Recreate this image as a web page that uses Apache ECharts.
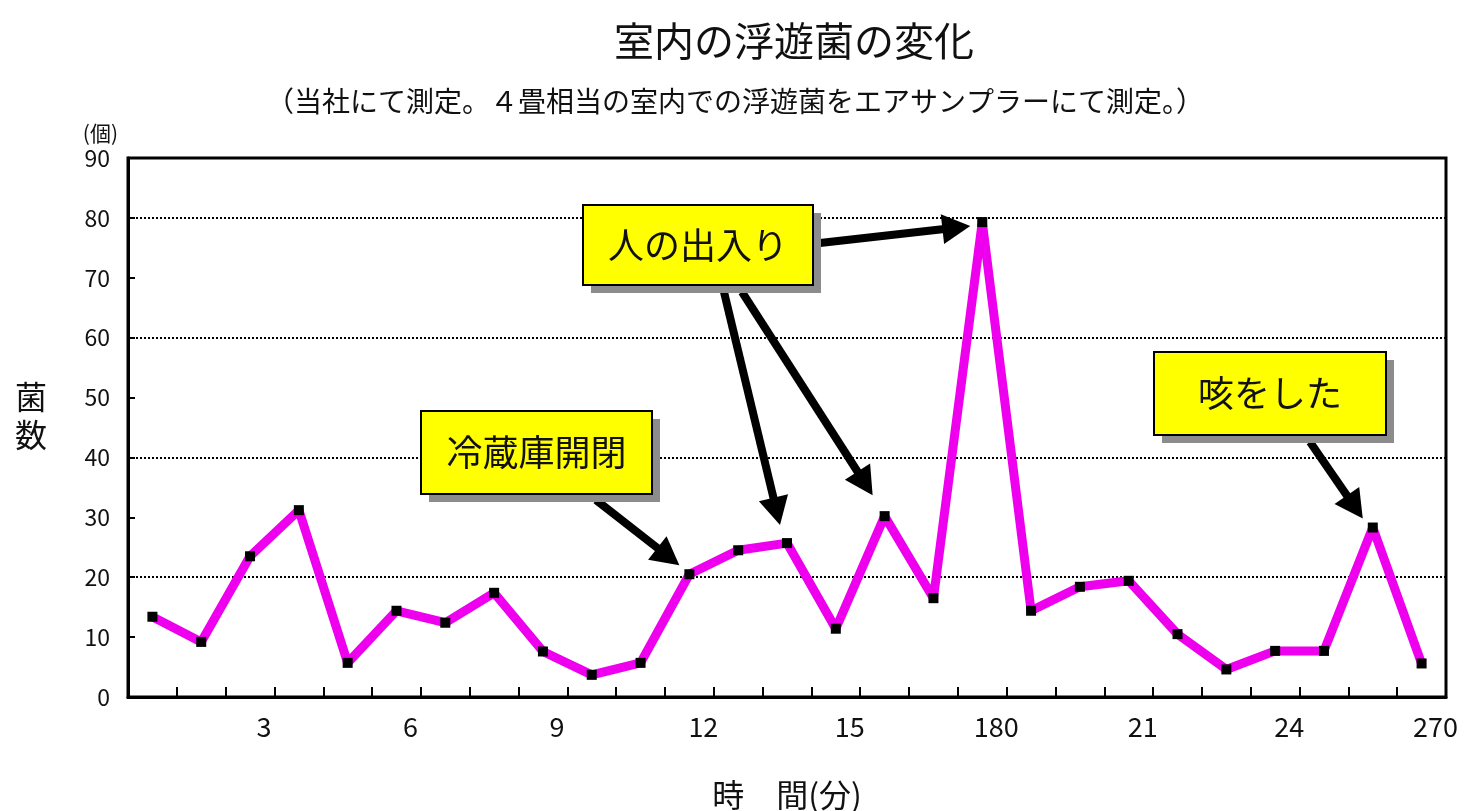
<!DOCTYPE html>
<html>
<head>
<meta charset="utf-8">
<script src="https://cdn.jsdelivr.net/npm/echarts@6/dist/echarts.min.js"></script>
<style>
html,body{margin:0;padding:0;background:#fff;}
#main{width:1475px;height:811px;}
</style>
</head>
<body>
<div id="main"></div>
<script>
const categories = ['1','2','3','4','5','6','7','8','9','10','11','12','13','14','15','16','17','18','19','20','21','22','23','24','25','26','27'];
const tickLabels = ['3','6','9','12','15','180','21','24','270'];
const counts = [13.4, 9.2, 23.5, 31.2, 5.7, 14.4, 12.4, 17.4, 7.6, 3.7, 5.7, 20.5, 24.5, 25.7, 11.4, 30.2, 16.5, 79.3, 14.4, 18.4, 19.4, 10.5, 4.6, 7.7, 7.7, 28.3, 5.6];
const yTicks = [0, 90, 10];

const FONT = '"Noto Sans CJK JP", "Noto Sans", sans-serif';
const chart = echarts.init(document.getElementById('main'));

chart.setOption({
  animation: false,
  backgroundColor: '#fff',
  textStyle: { fontFamily: FONT },
  title: [
    { text: '室内の浮遊菌の変化', left: 789, top: 16, textAlign: 'center',
      textStyle: { fontFamily: FONT, fontSize: 40, fontWeight: 'normal', color: '#111' } },
    { text: '（当社にて測定。４畳相当の室内での浮遊菌をエアサンプラーにて測定。）', left: 730, top: 82, textAlign: 'center',
      textStyle: { fontFamily: FONT, fontSize: 28, fontWeight: 'normal', color: '#111' } }
  ],
  grid: { left: 128, right: 29, top: 158, bottom: 114, outerBoundsMode: 'none', containLabel: false, show: true, borderColor: '#000', borderWidth: 3, backgroundColor: '#fff' },
  xAxis: {
    type: 'category',
    data: categories,
    boundaryGap: true,
    name: '時　間(分)',
    nameLocation: 'middle',
    nameGap: 82,
    nameTextStyle: { fontFamily: FONT, fontSize: 32, color: '#111' },
    axisLine: { lineStyle: { color: '#000', width: 3 } },
    axisTick: { show: true, inside: true, length: 10, interval: 0, lineStyle: { color: '#000', width: 2 } },
    axisLabel: {
      interval: function (i) { return i % 3 === 2; },
      formatter: function (v, i) { return tickLabels[(i - 2) / 3]; },
      fontFamily: FONT, fontSize: 27, color: '#111', margin: 16, padding: [0, 0, 0, 28]
    },
    splitLine: { show: false }
  },
  yAxis: [
    {
      type: 'value', min: yTicks[0], max: yTicks[1], interval: yTicks[2],
      name: '(個)', nameLocation: 'end', nameGap: 14,
      nameTextStyle: { fontFamily: FONT, fontSize: 21, color: '#111', align: 'right', padding: [0, 10, 0, 0] },
      axisLine: { show: true, lineStyle: { color: '#000', width: 3 } },
      axisTick: { show: true, inside: true, length: 7, lineStyle: { color: '#000', width: 2 } },
      axisLabel: { fontFamily: FONT, fontSize: 23, color: '#111', margin: 18 },
      splitLine: { show: false }
    },
    {
      type: 'value', min: yTicks[0], max: yTicks[1], interval: 20,
      axisLine: { show: false }, axisTick: { show: false }, axisLabel: { show: false },
      splitLine: { show: true, lineStyle: { color: '#000', width: 2, type: [2, 2] } }
    }
  ],
  series: [{
    type: 'line',
    data: counts,
    yAxisIndex: 0,
    lineStyle: { color: '#ee00ee', width: 9 },
    itemStyle: { color: '#000' },
    symbol: 'rect',
    symbolSize: 10,
    showSymbol: true,
    z: 5
  }]
});

function px(i, v) { return chart.convertToPixel({ seriesIndex: 0 }, [i, v]); }

function arrow(x1, y1, x2, y2) {
  const dx = x2 - x1, dy = y2 - y1, L = Math.sqrt(dx * dx + dy * dy);
  const ux = dx / L, uy = dy / L, nx = -uy, ny = ux;
  const hl = 28, hw = 15;
  const bx = x2 - ux * hl, by = y2 - uy * hl;
  return [
    { type: 'line', shape: { x1: x1, y1: y1, x2: bx + ux * 2, y2: by + uy * 2 }, style: { stroke: '#000', lineWidth: 8 }, z: 20 },
    { type: 'polygon', shape: { points: [[x2, y2], [bx + nx * hw, by + ny * hw], [bx - nx * hw, by - ny * hw]] }, style: { fill: '#000' }, z: 20 }
  ];
}

function box(x, y, w, h, text) {
  return [
    { type: 'rect', shape: { x: x + 8, y: y + 8, width: w, height: h }, style: { fill: '#8c8c8c' }, z: 30 },
    { type: 'rect', shape: { x: x, y: y, width: w, height: h }, style: { fill: '#ffff00', stroke: '#000', lineWidth: 2 }, z: 31 },
    { type: 'text', x: x + w / 2, y: y + h / 2, style: { text: text, font: '36px ' + FONT, fill: '#111', align: 'center', verticalAlign: 'middle' }, z: 32 }
  ];
}

const pPeak = px(17, counts[17]);
const p13 = px(13, counts[13]);
const p15 = px(15, counts[15]);
const p11 = px(11, counts[11]);
const p25 = px(25, counts[25]);

let g = [];
g = g.concat(arrow(820, 243, pPeak[0] - 12, pPeak[1] + 4));
g = g.concat(arrow(724, 292, p13[0] - 7, p13[1] - 18));
g = g.concat(arrow(742, 292, p15[0] - 12, p15[1] - 21));
g = g.concat(arrow(596, 500, p11[0] - 10, p11[1] - 9));
g = g.concat(arrow(1310, 442, p25[0] - 10, p25[1] - 9));
g = g.concat(box(583, 205, 230, 80, '人の出入り'));
g = g.concat(box(421, 411, 231, 83, '冷蔵庫開閉'));
g = g.concat(box(1154, 352, 232, 83, '咳をした'));
g.push({ type: 'text', x: 31, y: 416, style: { text: '菌\n数', font: '32px ' + FONT, fill: '#111', align: 'center', verticalAlign: 'middle', lineHeight: 38 }, z: 10 });

chart.setOption({ graphic: { elements: g } });
</script>
</body>
</html>
